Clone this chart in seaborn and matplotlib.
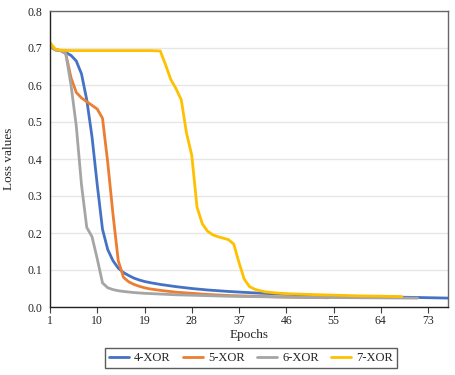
import matplotlib
matplotlib.use("Agg")
import matplotlib.pyplot as plt
import seaborn as sns
import pandas as pd

# ---- data ----
ep_4 = [1, 2, 3, 4, 5, 6, 7, 8, 9, 10, 11, 12, 13, 14, 15, 16, 17, 18, 19, 20,
        22, 25, 28, 31, 35, 40, 45, 50, 55, 60, 65, 70, 77]
xor4 = [0.705, 0.695, 0.693, 0.688, 0.68, 0.665, 0.63, 0.56, 0.46, 0.33, 0.21, 0.155,
        0.125, 0.105, 0.093, 0.085, 0.078, 0.073, 0.069, 0.066, 0.061, 0.055, 0.05,
        0.046, 0.042, 0.038, 0.035, 0.032, 0.03, 0.028, 0.027, 0.026, 0.024]

ep_5 = [1, 2, 3, 4, 5, 6, 7, 8, 9, 10, 11, 12, 13, 14, 15, 16, 17, 18, 19, 20,
        22, 25, 28, 31, 35, 40, 45, 50, 54]
xor5 = [0.705, 0.695, 0.693, 0.685, 0.62, 0.58, 0.565, 0.555, 0.545, 0.535, 0.51,
        0.39, 0.25, 0.125, 0.08, 0.068, 0.061, 0.056, 0.052, 0.049, 0.045, 0.04,
        0.037, 0.034, 0.031, 0.029, 0.027, 0.026, 0.025]

ep_6 = [1, 2, 3, 4, 5, 6, 7, 8, 9, 10, 11, 12, 13, 14, 15, 17, 19, 22, 25, 30,
        35, 40, 50, 60, 71]
xor6 = [0.705, 0.695, 0.693, 0.685, 0.60, 0.49, 0.33, 0.215, 0.19, 0.13, 0.065,
        0.052, 0.047, 0.044, 0.042, 0.039, 0.037, 0.035, 0.033, 0.031, 0.029,
        0.028, 0.026, 0.025, 0.024]

ep_7 = [1, 2, 3, 5, 10, 15, 20, 22, 23, 24, 25, 26, 27, 28, 29, 30, 31, 32, 33,
        34, 35, 36, 37, 38, 39, 40, 41, 42, 44, 46, 50, 55, 60, 65, 68]
xor7 = [0.715, 0.697, 0.694, 0.693, 0.693, 0.693, 0.693, 0.692, 0.655, 0.615,
        0.59, 0.56, 0.47, 0.41, 0.27, 0.225, 0.205, 0.195, 0.19, 0.186, 0.182,
        0.17, 0.12, 0.075, 0.055, 0.048, 0.044, 0.041, 0.038, 0.036, 0.034,
        0.032, 0.03, 0.029, 0.028]

series_names = ["4-XOR", "5-XOR", "6-XOR", "7-XOR"]
x_ticks = [1, 10, 19, 28, 37, 46, 55, 64, 73]
y_ticks = [0.0, 0.1, 0.2, 0.3, 0.4, 0.5, 0.6, 0.7, 0.8]

frames = []
for name, ep, vals in zip(series_names, [ep_4, ep_5, ep_6, ep_7], [xor4, xor5, xor6, xor7]):
    frames.append(pd.DataFrame({"Epochs": ep, "Loss values": vals, "Series": name}))
df = pd.concat(frames, ignore_index=True)

palette = {"4-XOR": "#4472C4", "5-XOR": "#ED7D31", "6-XOR": "#A5A5A5", "7-XOR": "#FFC000"}

sns.set_style("white")
plt.rcParams["font.family"] = ["Liberation Serif", "DejaVu Serif"]

fig = plt.figure(figsize=(4.56, 3.75), dpi=100)
ax = fig.add_axes([50 / 456, 1 - 307 / 375, 398 / 456, 296 / 375])

sns.lineplot(data=df, x="Epochs", y="Loss values", hue="Series", palette=palette,
             linewidth=2.0, ax=ax, legend=True, estimator=None, sort=True)

ax.set_xlim(1, 76.8)
ax.set_ylim(0, 0.8)
ax.set_xticks(x_ticks)
ax.set_yticks(y_ticks)
ax.set_yticklabels([f"{v:.1f}" for v in y_ticks])
ax.yaxis.grid(True, color="#E6E6E6", linewidth=1.0)
ax.set_axisbelow(True)
ax.tick_params(axis="x", direction="out", length=4, width=0.8, color="#404040",
               labelsize=8.5, pad=2, bottom=True)
ax.tick_params(axis="y", length=0, labelsize=8.5, pad=5.5, left=False)
for s in ["left", "bottom"]:
    ax.spines[s].set_color("#222222")
    ax.spines[s].set_linewidth(1.0)
for s in ["top", "right"]:
    ax.spines[s].set_color("#666666")
    ax.spines[s].set_linewidth(1.0)
    ax.spines[s].set_visible(True)

ax.set_xlabel("Epochs", fontsize=9.5, labelpad=1)
ax.set_ylabel("Loss values", fontsize=9.5, labelpad=9)

handles, labels = ax.get_legend_handles_labels()
if ax.legend_ is not None:
    ax.legend_.remove()
leg = fig.legend(handles, labels, loc="center", bbox_to_anchor=(251 / 456, 1 - 358 / 375),
                 ncol=4, frameon=True, fontsize=9, handlelength=1.6, columnspacing=1.0,
                 handletextpad=0.4, borderpad=0.3, borderaxespad=0, fancybox=False)
leg.get_frame().set_edgecolor("#333333")
leg.get_frame().set_linewidth(1.0)
for line in leg.get_lines():
    line.set_linewidth(2.0)

fig.savefig("out.png", dpi=100)
